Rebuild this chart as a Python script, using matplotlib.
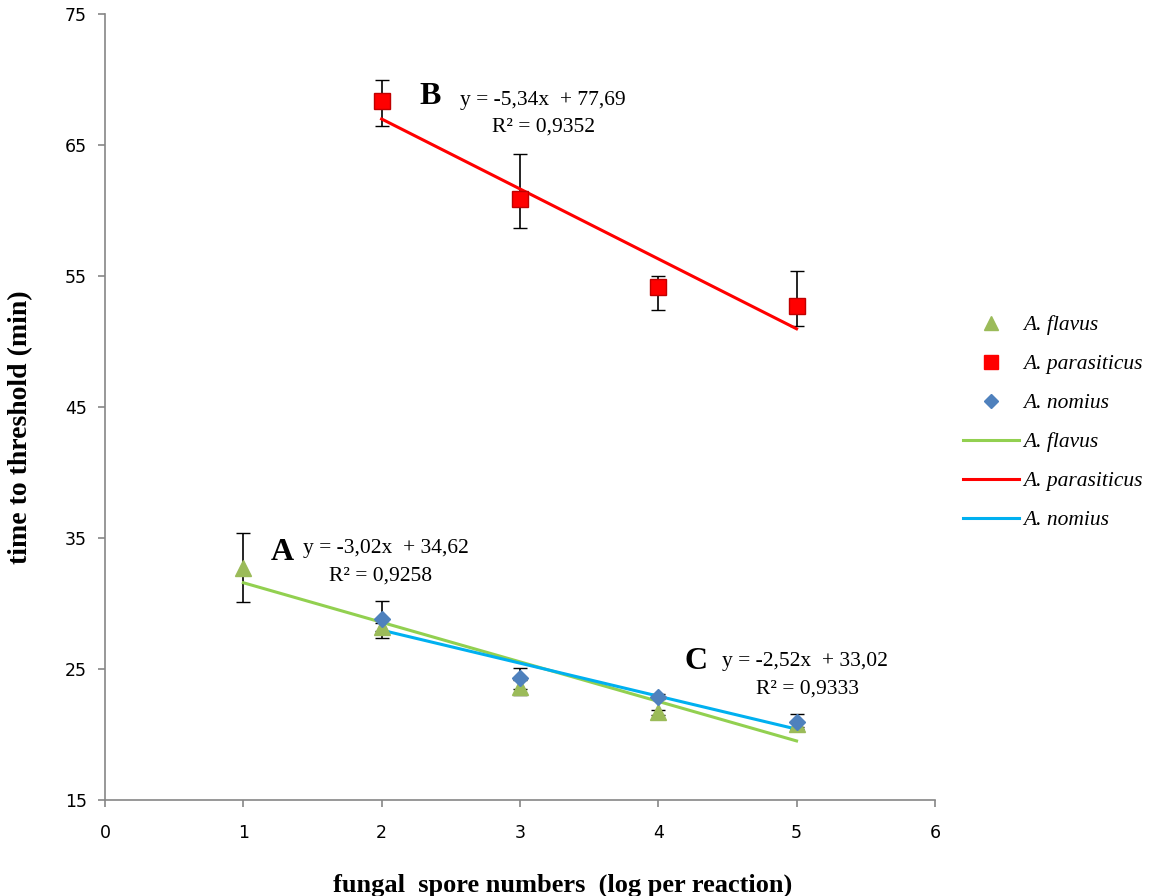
import matplotlib.pyplot as plt
import numpy as np
from matplotlib.lines import Line2D

plt.rcParams['font.family'] = ['Liberation Serif', 'DejaVu Serif']

# data
x_flavus = [1, 2, 3, 4, 5]
y_flavus = [32.7, 28.2, 23.6, 21.7, 20.8]
err_flavus_lo = [2.6, 0.3, 0.6, 0.2, 0.2]
err_flavus_hi = [2.7, 0.3, 0.6, 0.2, 0.2]

x_paras = [2, 3, 4, 5]
y_paras = [68.4, 60.9, 54.2, 52.7]
err_paras_lo = [1.9, 2.2, 1.8, 1.5]
err_paras_hi = [1.6, 3.4, 0.8, 2.7]

x_nomius = [2, 3, 4, 5]
y_nomius = [28.8, 24.3, 22.9, 21.0]
err_nomius_lo = [1.4, 0.8, 0.2, 0.6]
err_nomius_hi = [1.4, 0.8, 0.2, 0.6]

# trend lines (slope, intercept, x range)
fit_flavus = (-3.02, 34.62, 1, 5)
fit_paras = (-5.34, 77.69, 2, 5)
fit_nomius = (-2.52, 33.02, 2, 5)

c_flavus_m, c_flavus_l = '#9BBB59', '#92D050'
c_paras = '#FF0000'
c_nomius_m, c_nomius_l = '#4F81BD', '#00B0F0'

fig = plt.figure(figsize=(11.59, 8.96), dpi=100)
ax = fig.add_axes([0.0906, 0.107, 0.716, 0.877])

def trend(fit, color):
    a, b, x0, x1 = fit
    xs = np.array([x0, x1])
    ax.plot(xs, a * xs + b, color=color, lw=2.2, zorder=3)

ax.errorbar(x_flavus, y_flavus, yerr=[err_flavus_lo, err_flavus_hi], fmt='none',
            ecolor='black', elinewidth=1.2, capsize=5, zorder=2)
ax.errorbar(x_paras, y_paras, yerr=[err_paras_lo, err_paras_hi], fmt='none',
            ecolor='black', elinewidth=1.2, capsize=5, zorder=2)
ax.errorbar(x_nomius, y_nomius, yerr=[err_nomius_lo, err_nomius_hi], fmt='none',
            ecolor='black', elinewidth=1.2, capsize=5, zorder=2)

ax.plot(x_flavus, y_flavus, '^', color=c_flavus_m, ms=12, ls='none', zorder=4)
ax.plot(x_paras, y_paras, 's', color=c_paras, mec='#C00000', ms=11, ls='none', zorder=4)
ax.plot(x_nomius, y_nomius, 'D', color=c_nomius_m, ms=8, ls='none', zorder=5)

trend(fit_flavus, c_flavus_l)
trend(fit_paras, c_paras)
trend(fit_nomius, c_nomius_l)

ax.set_xlim(0, 6)
ax.set_ylim(15, 75)
ax.set_xticks(range(0, 7))
ax.set_yticks(range(15, 76, 10))
ax.tick_params(length=5, width=1.2, color='#868686')
ax.tick_params(axis='x', pad=12)
ax.tick_params(axis='y', pad=8)
for lab in ax.get_xticklabels() + ax.get_yticklabels():
    lab.set_family('DejaVu Sans')
    lab.set_fontsize(12.5)
for s in ['top', 'right']:
    ax.spines[s].set_visible(False)
for s in ['left', 'bottom']:
    ax.spines[s].set_color('#868686')
    ax.spines[s].set_linewidth(1.2)

ax.set_xlabel('fungal  spore numbers  (log per reaction)', fontsize=19, fontweight='bold')
ax.xaxis.set_label_coords(0.552, -0.094)
ax.set_ylabel('time to threshold (min)', fontsize=20, fontweight='bold')
ax.yaxis.set_label_coords(-0.087, 0.475)

# equation labels
ax.text(2.27, 68.7, 'B', fontsize=23, fontweight='bold', va='center')
ax.text(2.57, 68.4, 'y = -5,34x  + 77,69', fontsize=15.5, va='center')
ax.text(3.17, 66.4, 'R² = 0,9352', fontsize=15.5, va='center', ha='center')

ax.text(1.2, 33.9, 'A', fontsize=23, fontweight='bold', va='center')
ax.text(1.43, 34.2, 'y = -3,02x  + 34,62', fontsize=15.5, va='center')
ax.text(1.99, 32.1, 'R² = 0,9258', fontsize=15.5, va='center', ha='center')

ax.text(4.19, 25.6, 'C', fontsize=23, fontweight='bold', va='center')
ax.text(4.46, 25.6, 'y = -2,52x  + 33,02', fontsize=15.5, va='center')
ax.text(5.08, 23.5, 'R² = 0,9333', fontsize=15.5, va='center', ha='center')

handles = [
    Line2D([], [], marker='^', color=c_flavus_m, ls='none', ms=10),
    Line2D([], [], marker='s', color=c_paras, ls='none', ms=10),
    Line2D([], [], marker='D', color=c_nomius_m, ls='none', ms=7),
    Line2D([], [], color=c_flavus_l, lw=2.2),
    Line2D([], [], color=c_paras, lw=2.2),
    Line2D([], [], color=c_nomius_l, lw=2.2),
]
labels = ['A. flavus', 'A. parasiticus', 'A. nomius'] * 2
fig.legend(handles, labels, loc='center left', bbox_to_anchor=(0.814, 0.528), frameon=False,
           prop={'style': 'italic', 'size': 15.5}, labelspacing=0.88, handlelength=2.6,
           handletextpad=0.2)

fig.savefig('out.png', dpi=100)
